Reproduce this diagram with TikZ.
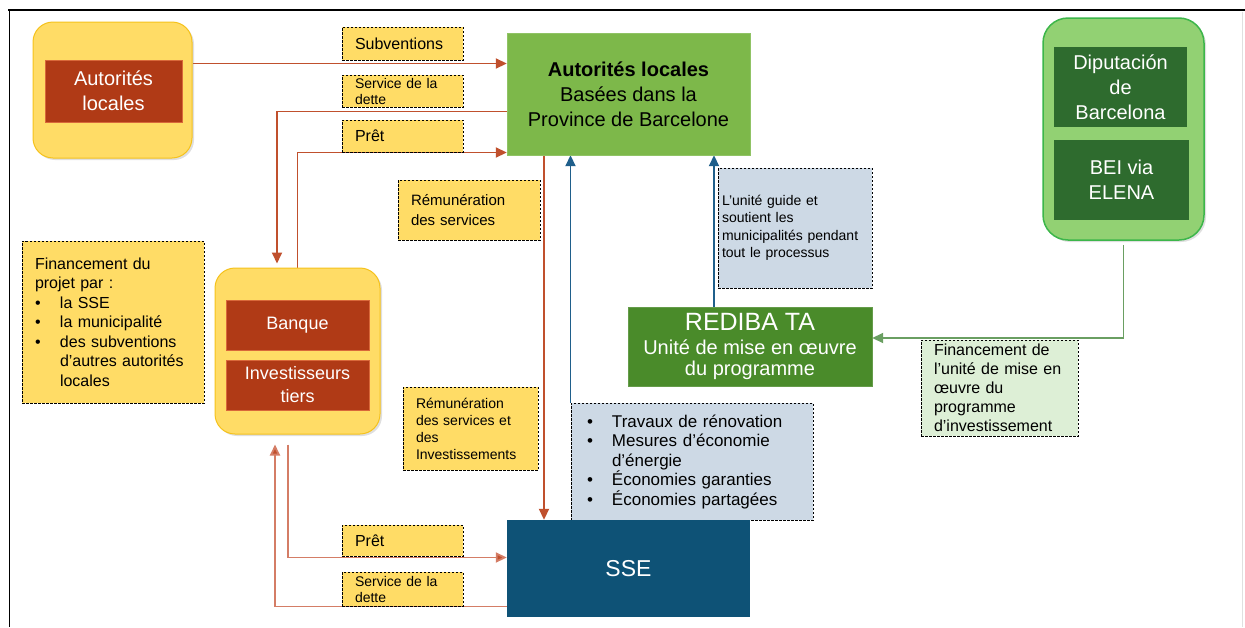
\documentclass[tikz,border=0pt]{standalone}
\usepackage{fontspec}
\setmainfont{Liberation Sans}
\usetikzlibrary{arrows.meta,shadows,backgrounds}

\definecolor{jaune}{HTML}{FFDC66}
\definecolor{jauneb}{HTML}{F5C21C}
\definecolor{brique}{HTML}{B03A16}
\definecolor{briqueb}{HTML}{D9683A}
\definecolor{vert}{HTML}{7DB84A}
\definecolor{vertf}{HTML}{4A8B2A}
\definecolor{vertc}{HTML}{92D173}
\definecolor{vertb}{HTML}{3CB64A}
\definecolor{vertdip}{HTML}{2E6B2E}
\definecolor{grisbleu}{HTML}{CDD9E5}
\definecolor{vertpale}{HTML}{DDEFD6}
\definecolor{bleusse}{HTML}{0E5276}
\definecolor{rouille}{HTML}{C0502D}
\definecolor{rouillec}{HTML}{D47D66}
\definecolor{bleufl}{HTML}{1F5F8B}
\definecolor{vertfl}{HTML}{6A9F62}

\newcommand{\taille}[2]{\fontsize{#1}{#2}\selectfont}
\newcommand{\puce}{\makebox[25pt][l]{\textbullet}}

\begin{document}
\begin{tikzpicture}[x=1pt,y=-1pt,
    conteneur/.style={draw=jauneb, fill=jaune, line width=1pt, rounded corners=20pt,
        drop shadow={opacity=0.25,shadow xshift=2pt,shadow yshift=-2pt}},
    brique/.style={draw=briqueb, fill=brique, line width=0.6pt, text=white, align=center},
    etiq/.style={draw, dash pattern=on 2.5pt off 1.5pt, line width=1pt, fill=jaune,
        align=left, inner xsep=13pt, inner ysep=0pt},
    cadre/.style={etiq, fill=grisbleu},
    fleche/.style={draw=rouille, line width=1.8pt, -{Triangle[length=11pt,width=10pt]}},
    flechel/.style={fleche, draw=rouillec, -{Triangle[length=11pt,width=10pt,fill=rouille]}},
    flecheb/.style={fleche, draw=bleufl},
    flechev/.style={fleche, draw=vertfl}]

    \useasboundingbox (0,0) rectangle (1245,627);

    % Frame
    \draw[line width=1.3pt] (8,10) -- (1245,10);
    \draw[line width=1.3pt] (9.5,10) -- (9.5,627);
    \draw[black!12] (1242,12) -- (1242,627);

    % Autorites locales (haut gauche)
    \node[conteneur, minimum width=159pt, minimum height=136pt] (ytop) at (112.5,90) {};
    \node[brique, minimum width=137pt, minimum height=62pt, font=\taille{20}{25}] (altop) at (113.5,91) {Autorités\\locales};

    % Autorites locales de la province
    \node[fill=vert, draw=vert!85!white, minimum width=243pt, minimum height=122pt, align=center,
        font=\taille{20}{25}] (alprov) at (628.5,94) {{\bfseries Autorités locales}\\Basées dans la\\Province de Barcelone};

    % Labels du haut
    \node[etiq, minimum width=121pt, minimum height=33pt, text width=95pt, font=\taille{16}{19}] (subv) at (402.5,43.5) {Subventions};
    \node[etiq, minimum width=121pt, minimum height=32pt, text width=95pt, font=\taille{14}{16}] (svc1) at (402.5,91) {Service de la\\dette};
    \node[etiq, minimum width=121pt, minimum height=32pt, text width=95pt, font=\taille{16}{19}] (pret1) at (402.5,136) {Prêt};
    \node[etiq, minimum width=142pt, minimum height=60pt, text width=116pt, font=\taille{15}{20}] (remun1) at (469,210) {Rémunération\\des services};

    % Unite guide
    \node[cadre, inner xsep=4pt, minimum width=154pt, minimum height=120pt, text width=146pt, font=\taille{14}{17.5}] (unite) at (795,228)
        {L'unité guide et\\soutient les\\municipalités pendant\\tout le processus};

    % REDIBA TA
    \node[fill=vertf, draw=vertf!85!white, text=white, align=center, minimum width=244pt, minimum height=79pt,
        font=\taille{20}{21}] (rediba) at (750,346.5) {{\taille{25}{27}REDIBA TA}\\[3pt]Unité de mise en œuvre\\du programme};

    % Diputacion
    \node[draw=vertb, fill=vertc, line width=1.5pt, rounded corners=25pt, minimum width=161pt, minimum height=222pt,
        drop shadow={opacity=0.25,shadow xshift=2pt,shadow yshift=-2pt}] (dipu) at (1123.5,129) {};
    \node[fill=vertdip, text=white, align=center, minimum width=133pt, minimum height=80pt, font=\taille{20}{25}] (dipu1) at (1120.5,87) {Diputación\\de\\Barcelona};
    \node[fill=vertdip, text=white, align=center, minimum width=135pt, minimum height=80pt, font=\taille{20}{25}] (bei) at (1121.5,180) {BEI via\\ELENA};

    \node[etiq, fill=vertpale, minimum width=157pt, minimum height=96pt, text width=131pt, font=\taille{16}{19}] (finunite) at (999.5,388)
        {Financement de\\l'unité de mise en\\œuvre du\\programme\\d'investissement};

    % Financement du projet
    \node[etiq, minimum width=182pt, minimum height=162pt, text width=156pt, font=\taille{16}{19.5}] (finproj) at (113,322)
        {Financement du\\projet par :\\\puce la SSE\\\puce la municipalité\\\puce des subventions\\\hspace*{25pt}d'autres autorités\\\hspace*{25pt}locales};

    % Banque
    \node[conteneur, minimum width=165pt, minimum height=166pt] (bqbox) at (297.5,351) {};
    \node[brique, minimum width=143pt, minimum height=50pt, font=\taille{18}{23}] (banque) at (297.5,325) {Banque};
    \node[brique, minimum width=143pt, minimum height=50pt, font=\taille{18}{23}] (invest) at (297.5,385) {Investisseurs\\tiers};

    \node[etiq, minimum width=135pt, minimum height=83pt, text width=109pt, font=\taille{14}{17}] (remun2) at (470.5,428.5)
        {Rémunération\\des services et\\des\\Investissements};

    % Travaux
    \node[cadre, inner xsep=16pt, minimum width=242pt, minimum height=117pt, text width=210pt, font=\taille{17}{19.5}] (travaux) at (692,461.5)
        {\puce Travaux de rénovation\\\puce Mesures d'économie\\\hspace*{25pt}d'énergie\\\puce Économies garanties\\\puce Économies partagées};

    % SSE
    \node[fill=bleusse, text=white, minimum width=243pt, minimum height=97pt, font=\taille{23}{26}] (sse) at (628.5,568.5) {SSE};

    % Labels du bas
    \node[etiq, minimum width=121pt, minimum height=31pt, text width=95pt, font=\taille{16}{19}] (pret2) at (402.5,540.5) {Prêt};
    \node[etiq, minimum width=121pt, minimum height=34pt, text width=95pt, font=\taille{14}{16}] (svc2) at (402.5,589) {Service de la\\dette};

    % Flux
    \begin{scope}[on background layer]
    \draw[fleche] ([yshift=-3pt]subv.south -| ytop.east) -- ([yshift=-3pt]subv.south -| alprov.west);
    \draw[fleche, shorten >=4pt] ([yshift=-4pt]svc1.south -| alprov.west) -| ([xshift=-20.5pt]bqbox.north);
    \draw[fleche] (bqbox.north) |- (pret1.south -| alprov.west);
    \draw[fleche] ([xshift=-84.5pt]alprov.south) -- ([xshift=-84.5pt]sse.north);
    \draw[flecheb] (travaux.north west) -- (travaux.north west |- alprov.south);
    \draw[flecheb] ([xshift=-36pt]rediba.north) -- ([xshift=-36pt]rediba.north |- alprov.south);
    \draw[flechev, shorten <=4pt] (dipu.south) |- ([yshift=8.5pt]rediba.east);
    \draw[flechel, shorten <=10pt] ([xshift=-9.5pt]bqbox.south) |- ([yshift=-1pt]pret2.south -| sse.west);
    \draw[flechel, shorten >=10pt] (svc2.south -| sse.west) -| ([xshift=-22.5pt]bqbox.south);
    \end{scope}
\end{tikzpicture}
\end{document}
